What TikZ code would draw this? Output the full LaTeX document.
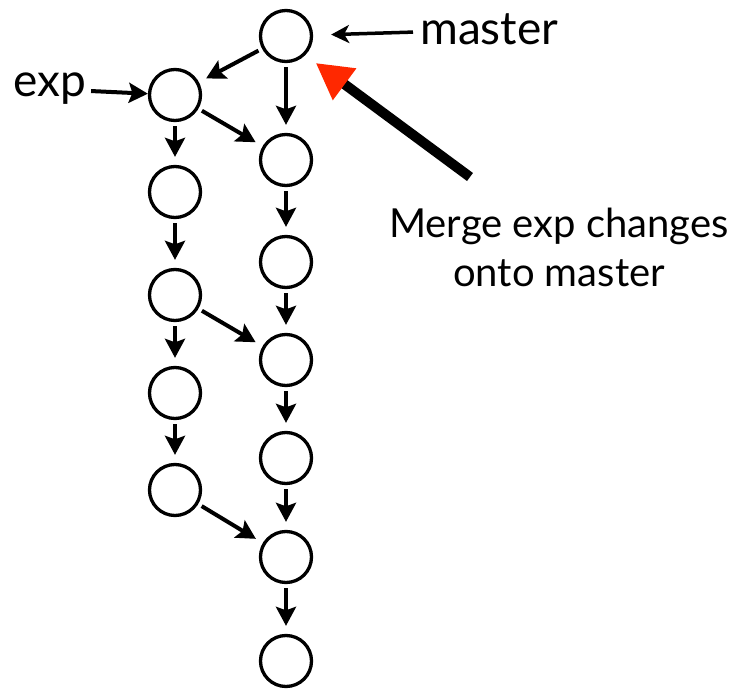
\documentclass[tikz,border=0pt]{standalone}
\usepackage{fontspec}
\setmainfont{Lato}
\usepackage{xcolor}
\usetikzlibrary{arrows.meta}
\definecolor{mergered}{RGB}{255,40,0}

\begin{document}
\begin{tikzpicture}[x=1pt,y=-1pt,>={Stealth[length=19pt,width=20pt,inset=3.5pt]},
  commit/.style={circle,draw,line width=3.3pt,minimum size=51pt,inner sep=0pt},
  commitarrow/.style={->,line width=4pt,shorten <=4pt,shorten >=8pt},
  reflabel/.style={inner sep=0pt,font=\fontsize{46}{52}\selectfont}]
  \useasboundingbox (0,0) rectangle (739,692);
  % master column
  \node[commit] (m0) at (286,36) {};
  \node[commit] (m1) at (286,160) {};
  \node[commit] (m2) at (286,262) {};
  \node[commit] (m3) at (286,360) {};
  \node[commit] (m4) at (286,458) {};
  \node[commit] (m5) at (286,557) {};
  \node[commit] (m6) at (286,661) {};
  % exp column
  \node[commit] (e0) at (175,95) {};
  \node[commit] (e1) at (175,192) {};
  \node[commit] (e2) at (175,295) {};
  \node[commit] (e3) at (175,393) {};
  \node[commit] (e4) at (175,490) {};
  % commit links
  \draw[commitarrow] (m0) -- (e0);
  \draw[commitarrow] (m0) -- (m1);
  \draw[commitarrow] (e0) -- (e1);
  \draw[commitarrow] (e0) -- (m1);
  \draw[commitarrow] (m1) -- (m2);
  \draw[commitarrow] (e1) -- (e2);
  \draw[commitarrow] (e2) -- (e3);
  \draw[commitarrow] (e2) -- (m3);
  \draw[commitarrow] (m2) -- (m3);
  \draw[commitarrow] (m3) -- (m4);
  \draw[commitarrow] (e3) -- (e4);
  \draw[commitarrow] (m4) -- (m5);
  \draw[commitarrow] (e4) -- (m5);
  \draw[commitarrow] (m5) -- (m6);
  % branch labels
  \node[reflabel,anchor=base west] (masterlabel) at (420,45) {master};
  \node[reflabel,anchor=base west] (explabel) at (13,97) {exp};
  \draw[-{Stealth[length=18pt,width=18pt,inset=5pt]},line width=3.5pt,shorten <=7pt,shorten >=18pt] (masterlabel) -- (m0);
  \draw[->,line width=4pt,shorten <=5pt] (explabel) -- (e0);
  % merge note
  \node[align=center,anchor=base,inner sep=0pt,font=\fontsize{40}{49}\selectfont] (mergenote) at (559,287) {Merge exp changes\\onto master};
  \coordinate (mergetail) at (470,177);
  \draw[line width=10pt,-{Triangle[length=36pt,width=37pt,color=mergered,fill=mergered]},shorten >=13pt] (mergetail) -- (m0.south east);
\end{tikzpicture}
\end{document}
